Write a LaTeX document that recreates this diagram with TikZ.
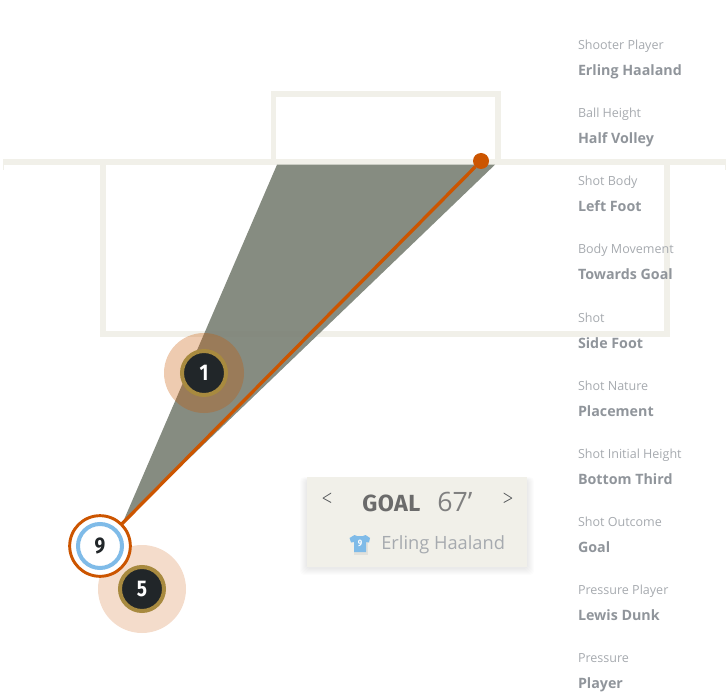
\documentclass[tikz,border=0pt]{standalone}
\usepackage{fontspec}
\setmainfont{Open Sans}
\newfontfamily\numfont[FakeStretch=0.84]{Fira Sans}
\newfontfamily\headfont[LetterSpace=2]{Fira Sans}
\newfontfamily\chevfont[FakeStretch=0.8]{Open Sans Light}
\usetikzlibrary{positioning}
\definecolor{pitchline}{HTML}{F1F0E9}
\definecolor{wedgegrey}{HTML}{7C8276}
\definecolor{shotorange}{HTML}{CC5500}
\definecolor{haloorange}{HTML}{C85700}
\definecolor{kitblue}{HTML}{7FBBE8}
\definecolor{ringgold}{HTML}{A88A3F}
\definecolor{playerdark}{HTML}{212629}
\definecolor{halofive}{HTML}{F4DCCB}
\definecolor{labelgrey}{HTML}{A6AAAF}
\definecolor{valuegrey}{HTML}{90959B}
\tikzset
{
    pitch/.style      = {draw=pitchline, line width=4.4pt},
    halo/.style       = {circle, inner sep=0pt, minimum size=#1},
    player/.style     = {circle, draw=ringgold, fill=playerdark, line width=3pt, inner sep=0pt, minimum size=33pt, text=white, font=\numfont\bfseries\fontsize{17}{17}\selectfont},
    statlabel/.style  = {inner sep=0pt, outer sep=0pt, text height=9pt, text depth=3pt, text=labelgrey, font=\fontsize{9.4}{12}\selectfont},
    statvalue/.style  = {inner sep=0pt, outer sep=0pt, text height=9pt, text depth=3pt, text=valuegrey, font=\bfseries\fontsize{10.7}{12}\selectfont}
}
\begin{document}
\begin{tikzpicture}[x=0.75pt,y=-0.75pt]
    \useasboundingbox (0,0) rectangle (728,695);
    % pitch lines
    \draw [pitch] (3,161.8) -- (726,161.8);
    \draw [pitch] (273.5,159) -- (273.5,93.8) -- (498,93.8) -- (498,159);
    \draw [pitch] (103,164) -- (103,334) -- (667,334) -- (667,164);
    \draw [pitchline, line width=0.8pt] (3.5,164) -- (3.5,170);
    \draw [pitchline, line width=0.8pt] (725.5,164) -- (725.5,170);
    % shot cone
    \fill [wedgegrey, opacity=0.92] (277,164.7) -- (495,164.7) -- (123,522) -- cycle;
    % pressure halos
    \node [halo=60pt, fill=haloorange, opacity=0.31] (haloOne) at (204,373) {};
    \node [halo=66pt, fill=halofive] (haloFive) at (142,589) {};
    % players
    \node [player] (keeper) at (204,373) {1};
    \node [player] (presser) at (142,589) {5};
    \coordinate (shooterPos) at (100,546);
    \node [circle, fill=shotorange, inner sep=0pt, minimum size=12pt] (ball) at (481,161) {};
    \draw [shotorange, line width=2.5pt] (shooterPos) -- (ball);
    \node [circle, draw=shotorange, fill=white, line width=2.2pt, inner sep=0pt, minimum size=45.5pt] (shooterRing) at (shooterPos) {};
    \node [circle, draw=kitblue, fill=white, line width=3pt, inner sep=0pt, minimum size=33pt, text=playerdark, font=\numfont\bfseries\fontsize{17}{17}\selectfont] (shooter) at (shooterPos) {9};
    % event card
    \foreach \g in {1,...,7}
        \fill [black, opacity=0.01, rounded corners=3pt] ({307-\g},{480-0.4*\g}) rectangle ({527+\g},{568+\g});
    \node [rectangle, fill=pitchline, inner sep=0pt, minimum width=165pt, minimum height=67.5pt] (card) at (417,522) {};
    \node [text=playerdark!80, font=\chevfont\fontsize{17}{17}\selectfont, inner sep=0pt] (prevEvent) at (327,500) {<};
    \node [text=playerdark!80, font=\chevfont\fontsize{17}{17}\selectfont, inner sep=0pt] (nextEvent) at (508,500) {>};
    \node [text=black!58, font=\headfont\bfseries\fontsize{17.5}{18}\selectfont, inner sep=0pt, anchor=base west] (goalText) at (362,511) {GOAL};
    \node [text=black!50, font=\fontsize{20}{20}\selectfont, inner sep=0pt, anchor=base west] (goalMinute) at (437,511) {67’};
    \node [text=labelgrey, font=\fontsize{13.7}{14}\selectfont, inner sep=0pt, anchor=base west] (cardName) at (381,549) {Erling Haaland};
    \fill [black, opacity=0.06] (354,542) rectangle (368,555);
    \fill [kitblue] (354.5,535) -- (357,536) -- (363,536) -- (365.5,535) -- (370,538) -- (369,542.5) -- (366,542) -- (366,552) -- (354,552) -- (354,542) -- (351,542.5) -- (349.5,538) -- cycle;
    \node [text=white, font=\numfont\bfseries\fontsize{7}{7}\selectfont, inner sep=0pt] (shirtNum) at (360,543) {9};
    % shot details
    \node [statlabel, anchor=north west] (l1) at (578,38) {Shooter Player};
    \node [statvalue, below right=7.5pt and 0pt of l1.south west] (v1) {Erling Haaland};
    \node [statlabel, below right=19.5pt and 0pt of v1.south west] (l2) {Ball Height};
    \node [statvalue, below right=7.5pt and 0pt of l2.south west] (v2) {Half Volley};
    \node [statlabel, below right=19.5pt and 0pt of v2.south west] (l3) {Shot Body};
    \node [statvalue, below right=7.5pt and 0pt of l3.south west] (v3) {Left Foot};
    \node [statlabel, below right=19.5pt and 0pt of v3.south west] (l4) {Body Movement};
    \node [statvalue, below right=7.5pt and 0pt of l4.south west] (v4) {Towards Goal};
    \node [statlabel, below right=19.5pt and 0pt of v4.south west] (l5) {Shot};
    \node [statvalue, below right=7.5pt and 0pt of l5.south west] (v5) {Side Foot};
    \node [statlabel, below right=19.5pt and 0pt of v5.south west] (l6) {Shot Nature};
    \node [statvalue, below right=7.5pt and 0pt of l6.south west] (v6) {Placement};
    \node [statlabel, below right=19.5pt and 0pt of v6.south west] (l7) {Shot Initial Height};
    \node [statvalue, below right=7.5pt and 0pt of l7.south west] (v7) {Bottom Third};
    \node [statlabel, below right=19.5pt and 0pt of v7.south west] (l8) {Shot Outcome};
    \node [statvalue, below right=7.5pt and 0pt of l8.south west] (v8) {Goal};
    \node [statlabel, below right=19.5pt and 0pt of v8.south west] (l9) {Pressure Player};
    \node [statvalue, below right=7.5pt and 0pt of l9.south west] (v9) {Lewis Dunk};
    \node [statlabel, below right=19.5pt and 0pt of v9.south west] (l10) {Pressure};
    \node [statvalue, below right=7.5pt and 0pt of l10.south west] (v10) {Player};
\end{tikzpicture}
\end{document}
